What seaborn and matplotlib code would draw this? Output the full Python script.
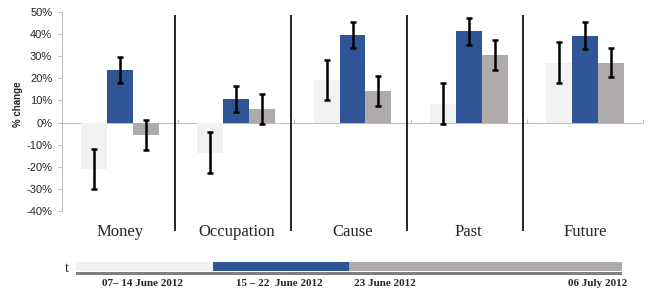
import seaborn as sns
import pandas as pd
import matplotlib.pyplot as plt
import numpy as np

# data (% change)
categories = ["Money", "Occupation", "Cause", "Past", "Future"]
periods = ["07-14 June 2012", "15-22 June 2012", "23 June - 06 July 2012"]
light_vals = [-21, -13.6, 19.2, 8.5, 27]
blue_vals = [23.8, 10.6, 39.7, 41.2, 39.2]
gray_vals = [-5.5, 6.3, 14.4, 30.6, 27]
light_err = [9.1, 9.3, 9.1, 9.2, 9.3]
blue_err = [6, 5.9, 6, 6.1, 6.1]
gray_err = [6.7, 6.8, 6.7, 6.7, 6.6]
yticks = [-40, -30, -20, -10, 0, 10, 20, 30, 40, 50]

# timeline along the bottom
time_shares = [0.25, 0.25, 0.5]
date_labels = ["07\u2013 14 June 2012", "15 \u2013 22  June 2012", "23 June 2012", "06 July 2012"]
date_pos = [0.121, 0.372, 0.566, 0.956]

colors = ["#F2F2F2", "#2F5597", "#AFABAB"]

sns.set_style("white")
plt.rcParams["font.family"] = ["Liberation Sans", "DejaVu Sans"]

df = pd.DataFrame({
    "category": categories * 3,
    "period": np.repeat(periods, len(categories)),
    "change": light_vals + blue_vals + gray_vals,
})
errs = [light_err, blue_err, gray_err]
vals = [light_vals, blue_vals, gray_vals]

fig = plt.figure(figsize=(6.48, 2.93), dpi=100)
ax = fig.add_axes([62 / 648, 1 - 211 / 293, 581 / 648, 199 / 293])

sns.barplot(data=df, x="category", y="change", hue="period", palette=colors,
            saturation=1, width=0.67, linewidth=0, legend=False, ax=ax)

# error bars at the bar centres
for cont, v, e in zip(ax.containers, vals, errs):
    xs = [p.get_x() + p.get_width() / 2 for p in cont.patches]
    ax.errorbar(xs, v, yerr=e, fmt="none", ecolor="black", elinewidth=1.8,
                capsize=2, capthick=1.8, zorder=5)

ax.set_xlim(-0.5, 4.5)
ax.set_ylim(-40, 50)
ax.set_yticks(yticks)
ax.set_yticklabels([f"{t}%" for t in yticks], fontsize=8)
ax.set_ylabel("")
ax.set_xlabel("")

for s in ["top", "right"]:
    ax.spines[s].set_visible(False)
ax.spines["left"].set_color("#BFBFBF")
ax.spines["bottom"].set_color("#BFBFBF")
ax.spines["bottom"].set_position(("data", 0))
ax.spines["bottom"].set_zorder(0)
ax.set_xticks([0.5, 1.5, 2.5, 3.5, 4.5])
ax.set_xticklabels([])
ax.tick_params(axis="x", direction="in", length=3, color="#BFBFBF", bottom=True)
ax.tick_params(axis="y", direction="out", length=3, color="#BFBFBF", left=True, pad=4)

# group separators
for i in range(4):
    ax.vlines(i + 0.47, -49, 48.7, color="black", lw=1.2, clip_on=False)

for i, c in enumerate(categories):
    ax.text(i, -49.5, c, ha="center", va="center", fontsize=12,
            family="Liberation Serif", clip_on=False)

fig.text(18 / 648, 1 - 104 / 293, "% change", rotation=90, ha="center", va="center",
         fontsize=7, fontweight="bold")

# timeline
ax2 = fig.add_axes([76 / 648, 1 - 275 / 293, 546 / 648, 14 / 293])
left = 0
for w, c in zip(time_shares, colors):
    ax2.barh(8.5, w, left=left, height=9.6, color=c, linewidth=0)
    left += w
ax2.barh(1.75, 1, left=0, height=3.5, color="#808080", linewidth=0)
ax2.set_xlim(0, 1)
ax2.set_ylim(0, 14)
ax2.axis("off")

fig.text(67 / 648, 1 - 268 / 293, "t", ha="center", va="center", fontsize=10,
         family="Liberation Serif")
for lab, p in zip(date_labels, date_pos):
    fig.text((76 + 546 * p) / 648, 1 - 283 / 293, lab, ha="center", va="center",
             fontsize=8, fontweight="bold", family="Liberation Serif")

fig.savefig("out.png", dpi=100)
